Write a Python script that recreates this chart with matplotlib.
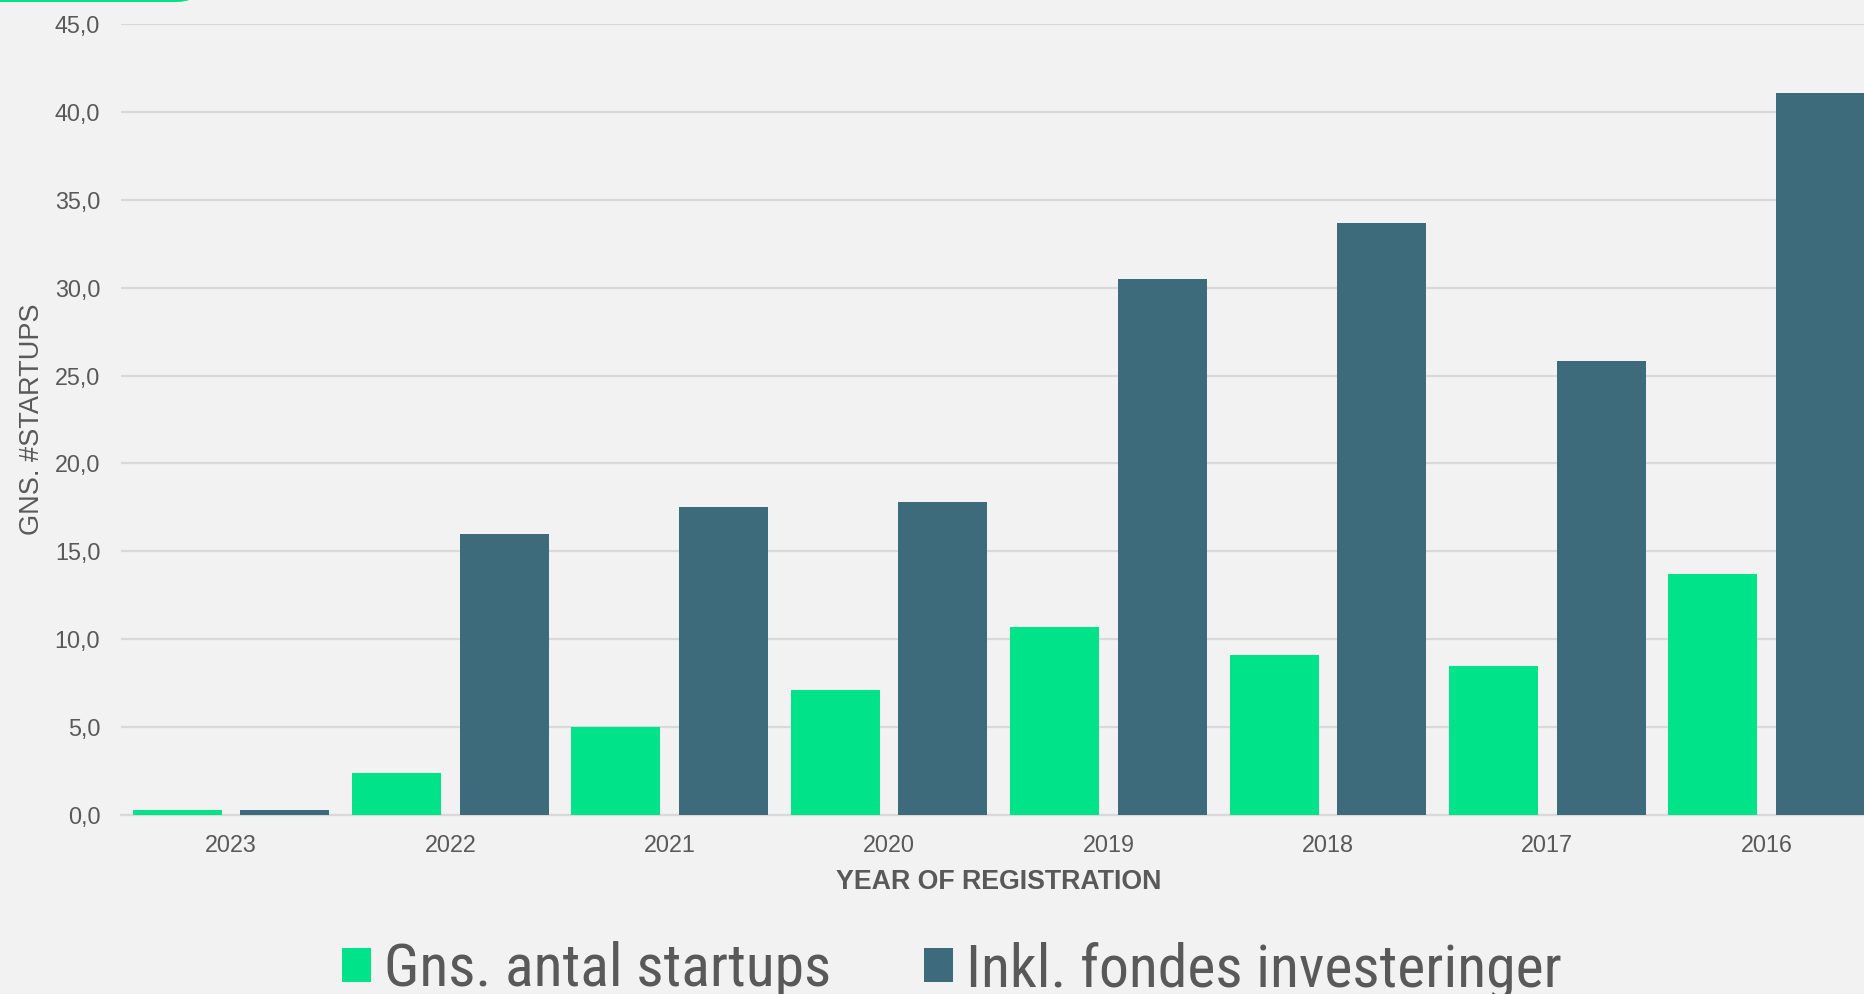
import matplotlib
matplotlib.use("Agg")
import matplotlib.pyplot as plt
import numpy as np
from matplotlib.patches import Patch, FancyBboxPatch

years = ["2023", "2022", "2021", "2020", "2019", "2018", "2017", "2016"]
gns_antal = [0.3, 2.4, 5.0, 7.1, 10.7, 9.1, 8.5, 13.7]
inkl_fonde = [0.3, 16.0, 17.5, 17.8, 30.5, 33.7, 25.8, 41.05]
yticks = [0, 5, 10, 15, 20, 25, 30, 35, 40, 45]
ytick_labels = ["0,0", "5,0", "10,0", "15,0", "20,0", "25,0", "30,0", "35,0", "40,0", "45,0"]
series_names = ["Gns. antal startups", "Inkl. fondes investeringer"]

GREEN = "#00E388"
DARK = "#3E6B7B"
BG = "#F2F2F2"
TXT = "#595959"

W, H = 1865, 994
fig = plt.figure(figsize=(W / 100, H / 100), dpi=100, facecolor=BG)

left_px, right_px = 121.2, 1876.4
bottom_px, top_px = 815, 24
ax = fig.add_axes([left_px / W, (H - bottom_px) / H,
                   (right_px - left_px) / W, (bottom_px - top_px) / H])
ax.set_facecolor(BG)

x = np.arange(len(years))
bw = 0.406
off = 0.245
ax.bar(x - off, gns_antal, width=bw, color=GREEN, zorder=3, linewidth=0)
ax.bar(x + off, inkl_fonde, width=bw, color=DARK, zorder=3, linewidth=0)

ax.set_xlim(-0.5, len(years) - 0.5)
ax.set_ylim(0, 45)
ax.set_yticks(yticks)
ax.set_yticklabels(ytick_labels)
ax.set_xticks(x)
ax.set_xticklabels(years)
ax.grid(axis="y", color="#D9D9D9", linewidth=1.6, zorder=0)
ax.set_axisbelow(True)
for s in ["top", "right", "left"]:
    ax.spines[s].set_visible(False)
ax.spines["bottom"].set_color("#D9D9D9")
ax.spines["bottom"].set_linewidth(1.6)
ax.tick_params(axis="both", length=0, labelsize=16.8, labelcolor=TXT,
               labelfontfamily="Liberation Sans")
ax.tick_params(axis="y", pad=15)
ax.tick_params(axis="x", pad=14)

ax.set_xlabel("YEAR OF REGISTRATION", fontsize=19.3, fontweight="bold",
              color=TXT, family="Liberation Sans", labelpad=8)
ax.set_ylabel("GNS. #STARTUPS", fontsize=19.5, color=TXT,
              family="Liberation Sans", labelpad=7)

handles = [Patch(facecolor=GREEN, edgecolor="none"),
           Patch(facecolor=DARK, edgecolor="none")]
leg = fig.legend(handles, series_names, loc="center",
                 bbox_to_anchor=(952 / W, (H - 970) / H), ncol=2,
                 frameon=False, handlelength=0.48, handleheight=0.48,
                 handletextpad=0.22, columnspacing=1.55,
                 prop={"family": ["Roboto Condensed", "Roboto"], "size": 43})
for t in leg.get_texts():
    t.set_color(TXT)

# decorative green accent at the top-left edge
deco = FancyBboxPatch((-40 / W, (H - 2) / H), 235 / W, 30 / H,
                      boxstyle="round,pad=0,rounding_size=0.01",
                      transform=fig.transFigure, facecolor=GREEN,
                      edgecolor="none", clip_on=False)
fig.patches.append(deco)

fig.savefig("out.png", dpi=100, facecolor=BG)
